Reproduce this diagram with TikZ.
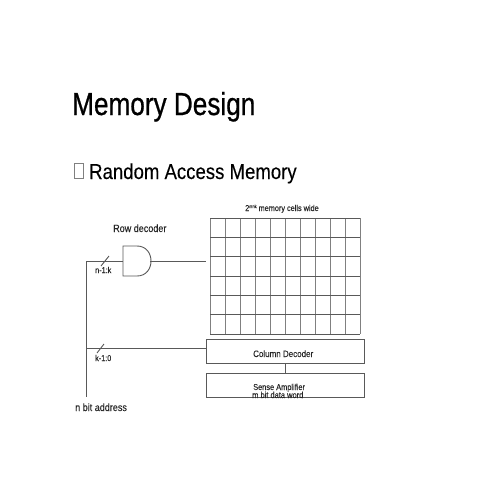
\documentclass[tikz,border=0pt]{standalone}
\usepackage{fontspec}
\setmainfont[FakeStretch=0.86,FakeBold=0.15]{Liberation Sans}
\newfontfamily\titlefont[FakeStretch=0.82,FakeBold=0.7]{Liberation Sans}
\usepackage{tikz}

\definecolor{wirecol}{gray}{0.35}
\definecolor{gridcol}{gray}{0.5}
\definecolor{labelcol}{gray}{0.15}

\tikzset{
    wire/.style={draw=wirecol, line width=0.9pt},
    blockbox/.style={draw=wirecol, line width=0.9pt, minimum width=158pt, minimum height=24pt, inner sep=0pt},
    smalllabel/.style={text=labelcol, inner sep=0pt, anchor=base west},
}

\begin{document}
\begin{tikzpicture}[x=1pt, y=-1pt]

        \useasboundingbox (0,0) rectangle (495,495);

        %% ── Titres ─────────────────────────────────────────────────────────
        \node[anchor=base west, inner sep=0pt, font=\titlefont\fontsize{31.9}{32}\selectfont] (title) at (72,115)
            {Memory Design};
        \node[draw=gray, line width=0.6pt, minimum width=9.5pt, minimum height=15pt, inner sep=0pt] (bullet) at (79,170.5) {};
        \node[anchor=base west, inner sep=0pt, font=\fontsize{21.6}{22}\selectfont] (subtitle) at (89,179)
            {Random Access Memory};

        %% ── Matrice de cellules ────────────────────────────────────────────
        \foreach \i in {0,...,10}
            \draw[draw=gridcol, line width=0.95pt] (210+15*\i,218) -- (210+15*\i,334);
        \foreach \j in {0,...,6}
            \draw[draw=wirecol, line width=0.9pt] (210,218+19.33*\j) -- (360,218+19.33*\j);
        \node[smalllabel, font=\fontsize{8.5}{9}\selectfont] (celllabel) at (245,211)
            {2\raisebox{3pt}{\fontsize{4.5}{5}\selectfont mnk} memory cells wide};

        %% ── Blocs ──────────────────────────────────────────────────────────
        \node[blockbox] (coldec) at (285,351) {};
        \node[blockbox] (senseamp) at (285,385) {};
        \node[smalllabel, font=\fontsize{9.3}{9}\selectfont] (coltext) at (253,357) {Column Decoder};
        \node[smalllabel, font=\fontsize{8.6}{9}\selectfont] (sensetext) at (253,390) {Sense Amplifier};
        \node[smalllabel, font=\fontsize{8.7}{9}\selectfont] (wordtext) at (252,398) {m bit data word};
        \draw[wire] (coldec.south) -- (senseamp.north);

        %% ── Porte du décodeur ──────────────────────────────────────────────
        \coordinate (gatein) at (123,261);
        \coordinate (gateout) at (150,261);
        \coordinate (busbottom) at (86,397);
        \coordinate (buscorner) at (86,261);
        \coordinate (busmid) at (86,348);
        \coordinate (rowend) at (206,261);
        \draw[wire] (123,246) -- (137,246) .. controls (146,246) and (151,253) .. (151,261)
            .. controls (151,269) and (146,276) .. (137,276) -- (123,276) -- cycle;
        \node[smalllabel, font=\fontsize{10.5}{11}\selectfont] (rowlabel) at (113,232) {Row decoder};

        %% ── Fils d'adresse ─────────────────────────────────────────────────
        \draw[wire] (gatein) -- (buscorner) -- (busbottom);
        \draw[wire] (gateout) -- (rowend);
        \draw[wire] (busmid) -- (busmid -| coldec.west);
        \draw[wire] (101,266) -- (109,256);
        \draw[wire] (97,353) -- (104,344);
        \node[smalllabel, font=\fontsize{8.4}{9}\selectfont] (hilabel) at (95,273) {n-1:k};
        \node[smalllabel, font=\fontsize{8.4}{9}\selectfont] (lolabel) at (95,361) {k-1:0};
        \node[smalllabel, font=\fontsize{10.5}{11}\selectfont] (addrlabel) at (75,411) {n bit address};

    \end{tikzpicture}
\end{document}
